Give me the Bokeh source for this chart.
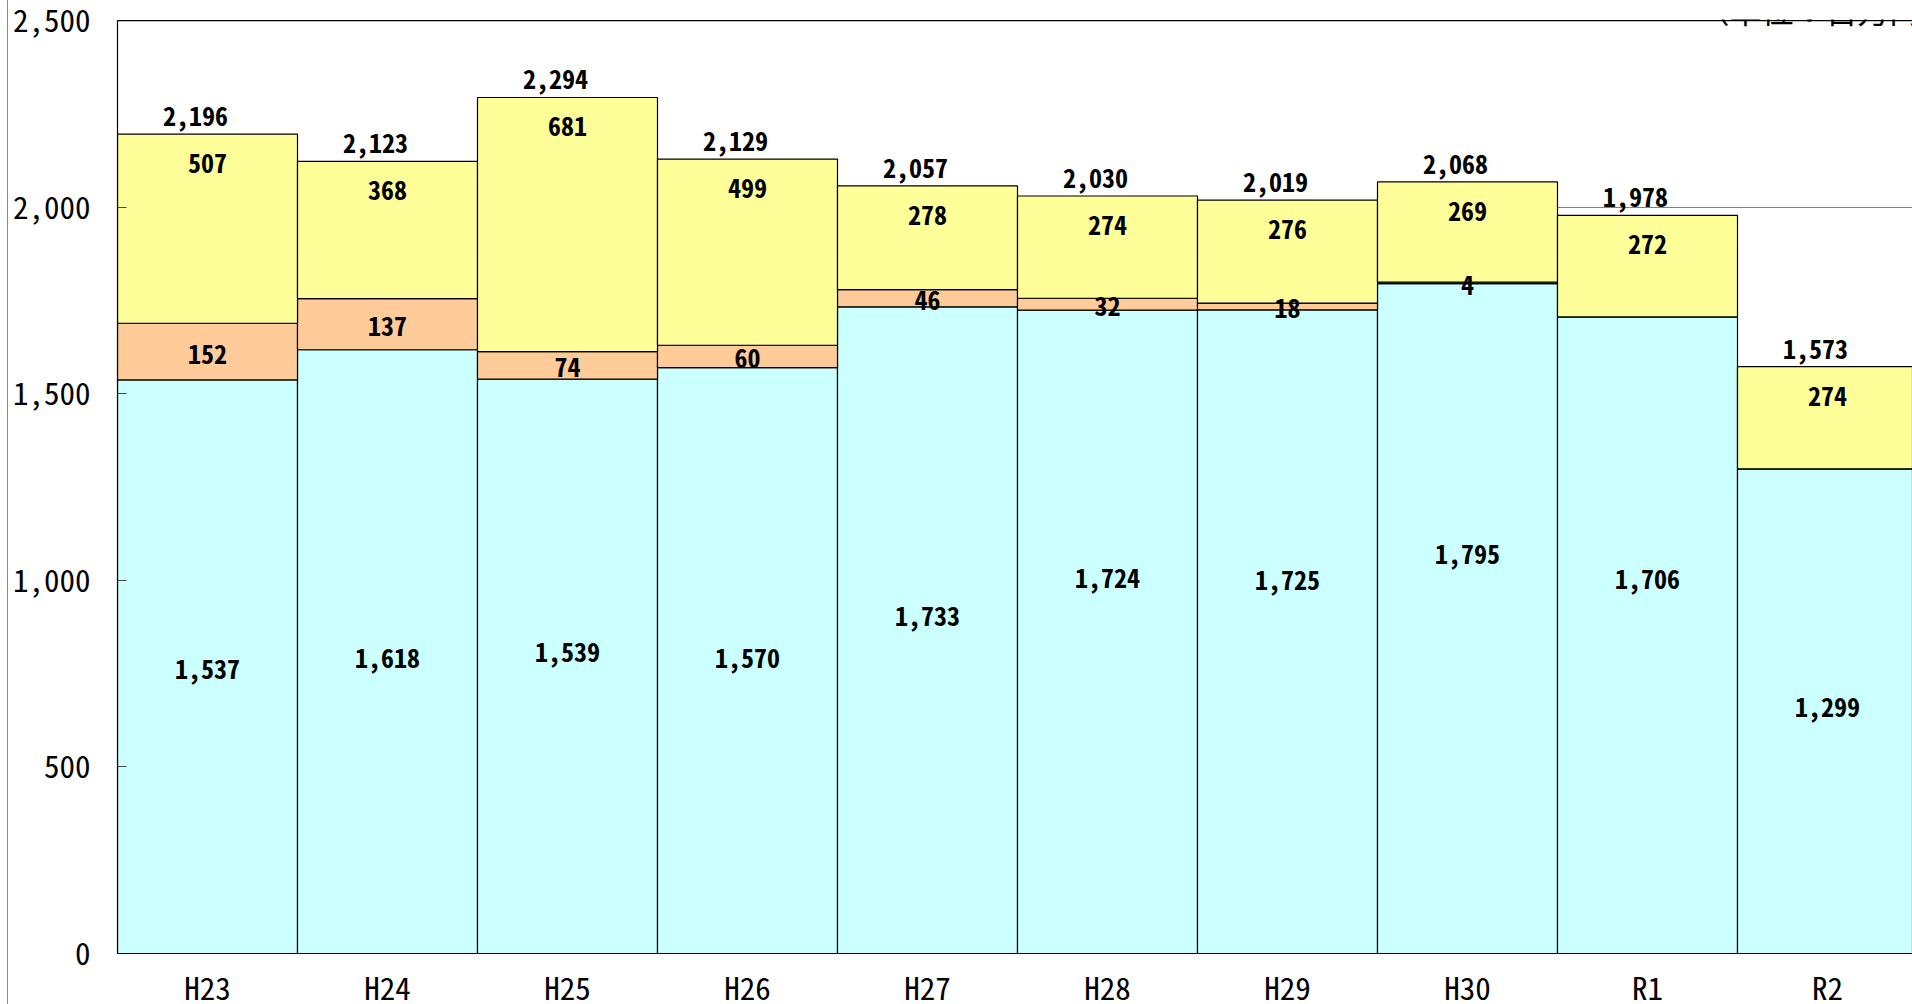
from bokeh.plotting import figure
from bokeh.models import (ColumnDataSource, Range1d, FixedTicker, NumeralTickFormatter,
                          Span, Label)
from bokeh.core.properties import value
from bokeh.embed import file_html
from bokeh.resources import INLINE

# ---------------- data ----------------
categories = ["H23", "H24", "H25", "H26", "H27", "H28", "H29", "H30", "R1", "R2"]
series_base = [1537, 1618, 1539, 1570, 1733, 1724, 1725, 1795, 1706, 1299]   # cyan
series_mid = [152, 137, 74, 60, 46, 32, 18, 4, 0, 0]                          # peach
series_top = [507, 368, 681, 499, 278, 274, 276, 269, 272, 274]               # yellow
y_ticks = [0, 500, 1000, 1500, 2000, 2500]
unit_text = "（単位：百万円）"

# ---------------- layout / style ----------------
# manual vertical nudges (px, + = down) of the cyan labels, as placed in the original
base_label_nudge = [2, 6, -14, -3, -14, -54, -52, -65, -56, -4]
FONT = "Noto Sans Mono CJK JP, Noto Sans CJK JP"
C_BASE, C_MID, C_TOP = "#CCFFFF", "#FFCC99", "#FFFF99"

W, H = 1912, 1004
TOP, LEFT = 19, 117          # frame edges (px)
ZERO_PX = 953                # pixel row of the value 0
Y_MAX = 2503
y_min = -Y_MAX * (H - ZERO_PX) / (ZERO_PX - TOP)   # room below 0 for category names

n = len(categories)
xs = list(range(n))
b0 = [0] * n
b1 = list(series_base)
b2 = [a + b for a, b in zip(series_base, series_mid)]
totals = [a + b + c for a, b, c in zip(series_base, series_mid, series_top)]

p = figure(width=W, height=H, output_backend="svg", toolbar_location=None,
           x_range=Range1d(-0.5, -0.5 + (W - LEFT) / 180), y_range=Range1d(y_min, Y_MAX),
           min_border_left=LEFT, min_border_right=0, min_border_top=TOP, min_border_bottom=0)
p.outline_line_color = None
p.background_fill_color = "white"
p.border_fill_alpha = 0
# thin grey rule down the left edge of the chart area, as in the original
p.styles = {"background": "linear-gradient(to right, #ffffff 7px, #8c8c8c 7px, "
                          "#8c8c8c 8px, #ffffff 8px)"}

src = ColumnDataSource(dict(x=xs, b0=b0, b1=b1, b2=b2, tot=totals))
bar_kw = dict(x="x", width=1.0, source=src, line_color="black", line_width=1.2)
p.vbar(bottom="b0", top="b1", fill_color=C_BASE, **bar_kw)
p.vbar(bottom="b1", top="b2", fill_color=C_MID, **bar_kw)
p.vbar(bottom="b2", top="tot", fill_color=C_TOP, **bar_kw)

# plot-area top edge and category-axis baseline
p.add_layout(Span(location=y_ticks[-1], dimension="width", line_color="black", line_width=1.2))
p.add_layout(Span(location=0, dimension="width", line_color="black", line_width=1.2))

# y axis
p.yaxis.bounds = (y_ticks[0], y_ticks[-1])
p.yaxis.ticker = FixedTicker(ticks=y_ticks)
p.yaxis.formatter = NumeralTickFormatter(format="0,0")
p.yaxis.major_label_text_font = FONT
p.yaxis.major_label_text_font_size = "31px"
p.yaxis.major_label_text_color = "black"
p.yaxis.major_label_standoff = 27
p.yaxis.major_tick_in = 9
p.yaxis.major_tick_out = 0
p.yaxis.major_tick_line_color = "#444444"
p.yaxis.minor_tick_line_color = None
p.yaxis.axis_line_color = "black"
p.yaxis.axis_line_width = 1.2

p.xaxis.visible = False
p.xgrid.grid_line_color = None
p.ygrid.ticker = FixedTicker(ticks=y_ticks[1:])
p.ygrid.grid_line_color = "#808080"
p.ygrid.grid_line_width = 1

# category names under the baseline
cat_src = ColumnDataSource(dict(x=xs, y=[0] * n, t=categories))
p.text(x="x", y="y", text="t", y_offset=33, source=cat_src, text_font=value(FONT),
       text_font_size="31px", text_color="black", text_align="center",
       text_baseline="middle")

# value labels
lab_kw = dict(text_font=value(FONT), text_font_style="bold", text_font_size="26px",
              text_color="black", text_align="center", text_baseline="middle")

base_src = ColumnDataSource(dict(x=xs, y=[v / 2 for v in series_base],
                                 t=[f"{v:,}" for v in series_base], dy=base_label_nudge))
p.text(x="x", y="y", text="t", y_offset="dy", source=base_src, **lab_kw)

mid_idx = [i for i in range(n) if series_mid[i] > 0]
mid_src = ColumnDataSource(dict(x=[xs[i] for i in mid_idx],
                                y=[series_base[i] + series_mid[i] / 2 for i in mid_idx],
                                t=[f"{series_mid[i]:,}" for i in mid_idx]))
p.text(x="x", y="y", text="t", y_offset=2, source=mid_src, **lab_kw)

top_src = ColumnDataSource(dict(x=xs, y=totals, t=[f"{v:,}" for v in series_top]))
p.text(x="x", y="y", text="t", y_offset=29, source=top_src, **lab_kw)

tot_src = ColumnDataSource(dict(x=xs, y=totals, t=[f"{v:,}" for v in totals]))
p.text(x="x", y="y", text="t", y_offset=-18, x_offset=-12, source=tot_src, **lab_kw)

# unit note, cut by the top edge as in the original
p.add_layout(Label(x=1580, y=H - 8, x_units="screen", y_units="screen", text=unit_text,
                   text_font=FONT, text_font_size="32px", text_color="black",
                   text_align="left", text_baseline="alphabetic"))

open("out.html", "w").write(file_html(p, INLINE))
